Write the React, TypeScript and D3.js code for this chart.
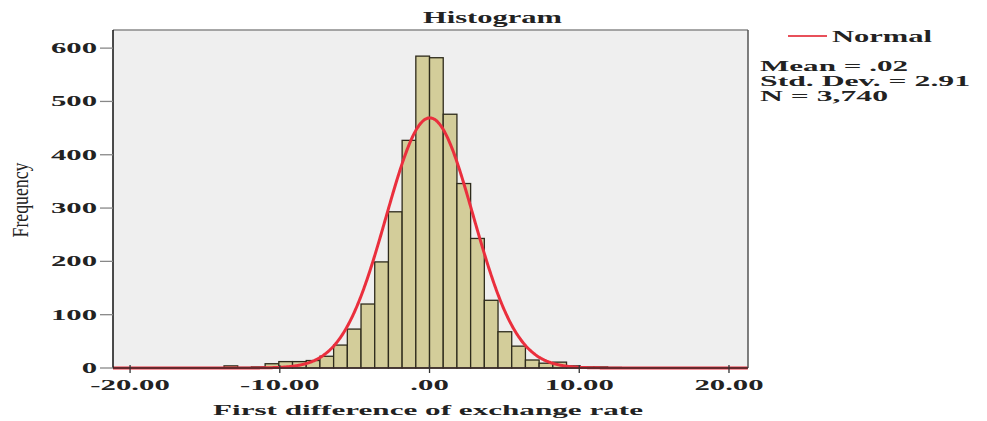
import React from "react";
import * as d3 from "d3";

// ---- data ----
const binWidth = 0.915;
// bin index k covers [k*binWidth, (k+1)*binWidth]
const binIndex = [-15, -14, -13, -12, -11, -10, -9, -8, -7, -6, -5, -4, -3, -2, -1, 0, 1, 2, 3, 4, 5, 6, 7, 8, 9, 10, 11, 12, 13];
const binCounts = [4, 1, 2, 8, 12, 12, 14, 22, 43, 73, 120, 199, 293, 427, 585, 582, 476, 346, 243, 127, 68, 41, 15, 9, 11, 4, 2, 2, 1];
const xTicks = [-20, -10, 0, 10, 20];
const xTickLabels = ["-20.00", "-10.00", ".00", "10.00", "20.00"];
const yTicks = [0, 100, 200, 300, 400, 500, 600];
const statMean = 0.02;
const statSD = 2.91;
const statN = 3740;
const statLines = ["Mean = .02", "Std. Dev. = 2.91", "N = 3,740"];
const statWidths = [148, 210, 128];

const W = 987;
const H = 421;
const L = 113, R = 748, T = 30, B = 368;
const SX = 2.05;
const FONT = "'Liberation Serif', 'Times New Roman', serif";

export default function App() {
  const x = d3.scaleLinear().domain([-21.14, 21.27]).range([L, R]);
  const y = d3.scaleLinear().domain([0, 634]).range([B, T]);

  const curvePts = d3.range(-21.14, 21.27, 0.05).map((v) => {
    const z = (v - statMean) / statSD;
    const f = (statN * binWidth) / (statSD * Math.sqrt(2 * Math.PI)) * Math.exp(-0.5 * z * z);
    return [v, f] as [number, number];
  });
  const line = d3.line<[number, number]>().x((d) => x(d[0])).y((d) => y(d[1])).curve(d3.curveBasis);

  return (
    <svg width={W} height={H} style={{ position: "absolute", left: 0, top: 0, background: "#fff" }} fontFamily={FONT}>
      <defs>
        <clipPath id="plotclip">
          <rect x={L} y={T} width={R - L} height={B - T + 2} />
        </clipPath>
      </defs>
      <rect x={L} y={T} width={R - L} height={B - T} fill="#efefef" />
      {binIndex.map((k, i) => {
        const x0 = x(k * binWidth);
        const x1 = x((k + 1) * binWidth);
        return (
          <rect key={k} x={x0} y={y(binCounts[i])} width={x1 - x0} height={B - y(binCounts[i])}
            fill="#d3cd9a" stroke="#2e2b1c" strokeWidth={1.3} />
        );
      })}
      <g clipPath="url(#plotclip)">
        <path d={line(curvePts) || ""} fill="none" stroke="#ea2f3d" strokeWidth={3} />
      </g>
      {/* frame */}
      <line x1={L} x2={R} y1={T} y2={T} stroke="#8a8a8a" strokeWidth={1.5} />
      <line x1={R} x2={R} y1={T} y2={B} stroke="#555" strokeWidth={1.5} />
      <line x1={L} x2={L} y1={T} y2={B} stroke="#111" strokeWidth={1.5} />
      <line x1={L} x2={R} y1={B} y2={B} stroke="#3a2a2a" strokeWidth={1.5} />
      {/* y axis */}
      {yTicks.map((t) => (
        <g key={t}>
          <line x1={100} x2={L} y1={y(t)} y2={y(t)} stroke="#888" strokeWidth={1.3} />
          <text transform={`translate(97,${y(t) + 5}) scale(${SX},1)`} textAnchor="end" fontSize={15} fontWeight="bold" fill="#222">{t}</text>
        </g>
      ))}
      {/* x axis */}
      {xTicks.map((t, i) => (
        <g key={t}>
          <line x1={x(t)} x2={x(t)} y1={B - 3} y2={B + 5} stroke="#333" strokeWidth={1.3} />
          <text transform={`translate(${x(t)},390) scale(${SX},1)`} textAnchor="middle" fontSize={15} fontWeight="bold" fill="#222">{xTickLabels[i]}</text>
        </g>
      ))}
      <text x={213} y={415} fontSize={15} fontWeight="bold" fill="#222" textLength={430} lengthAdjust="spacingAndGlyphs">First difference of exchange rate</text>
      <text transform="translate(27.5,200) rotate(-90) scale(1,1.8)" textAnchor="middle" fontSize={13} fill="#222" textLength={75} lengthAdjust="spacingAndGlyphs">Frequency</text>
      <text x={423} y={23} fontSize={16} fontWeight="bold" fill="#222" textLength={139} lengthAdjust="spacingAndGlyphs">Histogram</text>
      {/* legend */}
      <line x1={788} x2={827} y1={36} y2={36} stroke="#e8505a" strokeWidth={2} />
      <text x={832} y={42} fontSize={16} fontWeight="bold" fill="#222" textLength={100} lengthAdjust="spacingAndGlyphs">Normal</text>
      {statLines.map((s, i) => (
        <text key={s} x={760} y={71 + i * 15} fontSize={14} fontWeight="bold" fill="#222" textLength={statWidths[i]} lengthAdjust="spacingAndGlyphs">{s}</text>
      ))}
    </svg>
  );
}
